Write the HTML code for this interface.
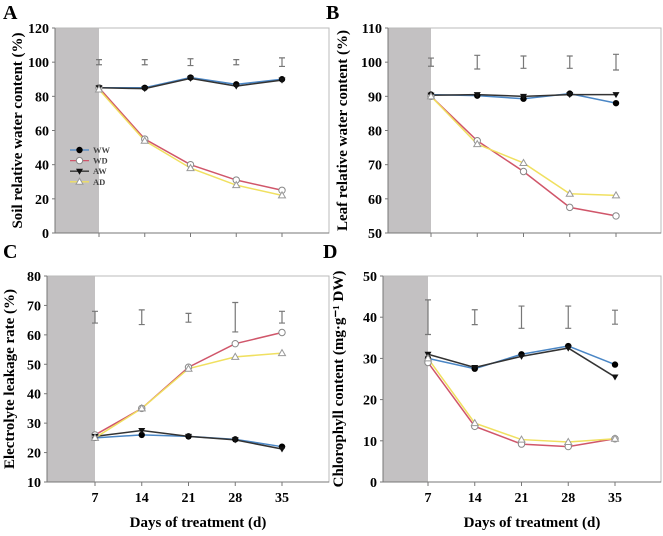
<!DOCTYPE html>
<html><head><meta charset="utf-8"><style>
html,body{margin:0;padding:0;background:#fff;}
svg{display:block;font-family:"Liberation Serif",serif;}
</style></head><body>
<svg id="fig" width="663" height="536" viewBox="0 0 663 536"></svg>
<script>
const days = [7, 14, 21, 28, 35];
const seriesNames = ["WW", "WD", "AW", "AD"];
// Panel A: soil relative water content
const aWW = [85, 85, 91, 87, 90];
const aWD = [85, 55, 40, 31, 25];
const aAW = [85, 84.5, 90.5, 86, 89.5];
const aAD = [84, 54, 38, 28, 22];
const aErrC = [100, 100, 100, 100, 100];
const aErrH = [1.5, 1.5, 2, 1.5, 2.5];
const aTicks = [0, 20, 40, 60, 80, 100, 120];
// Panel B: leaf relative water content
const bWW = [90.5, 90.2, 89.3, 90.8, 88];
const bWD = [90, 77, 68, 57.5, 55];
const bAW = [90.3, 90.5, 90, 90.5, 90.5];
const bAD = [90, 76, 70.5, 61.5, 61];
const bErrC = [100, 100, 100, 100, 100];
const bErrH = [1.2, 2, 1.8, 1.8, 2.3];
const bTicks = [50, 60, 70, 80, 90, 100, 110];
// Panel C: electrolyte leakage
const cWW = [25, 26, 25.5, 24.5, 22];
const cWD = [26, 35, 49, 57, 60.8];
const cAW = [25.5, 27.5, 25.5, 24.3, 21.2];
const cAD = [25, 35, 48.5, 52.5, 53.8];
const cErrC = [66, 66, 65.8, 66, 66];
const cErrH = [2, 2.5, 1.5, 5, 2];
const cTicks = [10, 20, 30, 40, 50, 60, 70, 80];
// Panel D: chlorophyll
const dWW = [30, 27.5, 31, 33, 28.5];
const dWD = [29, 13.5, 9.2, 8.6, 10.5];
const dAW = [31, 27.8, 30.5, 32.5, 25.5];
const dAD = [30, 14.3, 10.3, 9.7, 10.5];
const dErrC = [40, 40, 40, 40, 40];
const dErrH = [4.2, 1.8, 2.7, 2.7, 1.7];
const dTicks = [0, 10, 20, 30, 40, 50];

const NS = "http://www.w3.org/2000/svg";
const svg = document.getElementById("fig");
function mk(tag, attrs, parent) {
  const e = document.createElementNS(NS, tag);
  for (const k in attrs) e.setAttribute(k, attrs[k]);
  (parent || svg).appendChild(e);
  return e;
}
const colors = {WW: "#4a86c5", WD: "#d0566a", AW: "#333333", AD: "#f0e060"};

function marker(g, name, x, y) {
  let m;
  if (name === "WW") m = mk("circle", {cx: x, cy: y, r: 3.2, fill: "#000"}, g);
  else if (name === "WD") m = mk("circle", {cx: x, cy: y, r: 3.2, fill: "#fff", stroke: "#888", "stroke-width": 1}, g);
  else if (name === "AW") m = mk("polygon", {points: `${x-3.5},${y-2.5} ${x+3.5},${y-2.5} ${x},${y+3.5}`, fill: "#111"}, g);
  else m = mk("polygon", {points: `${x-3.5},${y+2.5} ${x+3.5},${y+2.5} ${x},${y-3.5}`, fill: "#fff", stroke: "#999", "stroke-width": 1}, g);
  return m;
}

function panel(cfg) {
  const g = mk("g", {});
  
  
  const X = d => cfg.x7 + (d - 7) * (cfg.x35 - cfg.x7) / 28;
  const Y = v => cfg.bottom - (v - cfg.ymin) * (cfg.bottom - cfg.top) / (cfg.ymax - cfg.ymin);
  // shade
  const sh = mk("rect", {x: cfg.left, y: cfg.top, width: X(7) - cfg.left, height: cfg.bottom - cfg.top, fill: "#c3c1c2"}, g);
  
  
  // frame
  const fr = mk("rect", {x: cfg.left, y: cfg.top, width: cfg.right - cfg.left, height: cfg.bottom - cfg.top, fill: "none", stroke: "#bbb", "stroke-width": 1}, g);
  
  
  mk("line", {x1: cfg.left, y1: cfg.top, x2: cfg.left, y2: cfg.bottom, stroke: "#777"}, g);
  mk("line", {x1: cfg.left, y1: cfg.bottom, x2: cfg.right, y2: cfg.bottom, stroke: "#777"}, g);
  // y ticks
  cfg.ticks.forEach(t => {
    mk("line", {x1: cfg.left - 3, y1: Y(t), x2: cfg.left, y2: Y(t), stroke: "#777"}, g);
    const tx = mk("text", {x: cfg.left - 6, y: Y(t) + 5, "text-anchor": "end", "font-size": 14, "font-weight": "bold"}, g);
    tx.textContent = t;
    
    
  });
  days.forEach(d => {
    mk("line", {x1: X(d), y1: cfg.bottom, x2: X(d), y2: cfg.bottom + 4, stroke: "#777"}, g);
    if (cfg.xlabels) {
      const tx = mk("text", {x: X(d), y: cfg.bottom + 20, "text-anchor": "middle", "font-size": 14, "font-weight": "bold"}, g);
      tx.textContent = d;
      
      
    }
  });
  // error bars
  days.forEach((d, i) => {
    const x = X(d), y1 = Y(cfg.errC[i] + cfg.errH[i]), y2 = Y(cfg.errC[i] - cfg.errH[i]);
    const eb = mk("path", {d: `M${x-3},${y1}H${x+3}M${x},${y1}V${y2}M${x-3},${y2}H${x+3}`, stroke: "#777", "stroke-width": 1.2, fill: "none"}, g);
    
    
  });
  // series
  seriesNames.forEach((nm, si) => {
    const vals = cfg.series[si];
    const pl = mk("polyline", {points: vals.map((v, i) => X(days[i]) + "," + Y(v)).join(" "), fill: "none", stroke: colors[nm], "stroke-width": 1.5}, g);
    
    
  });
  seriesNames.forEach((nm, si) => {
    cfg.series[si].forEach((v, i) => {
      const m = marker(g, nm, X(days[i]), Y(v));
      
      
    });
  });
  // letter
  const lt = mk("text", {x: cfg.lx, y: cfg.ly, "font-size": 20, "font-weight": "bold"}, g);
  lt.textContent = cfg.letter;
  
  
  // y title
  const cy = (cfg.top + cfg.bottom) / 2;
  const yt = mk("text", {x: cfg.ytx, y: cy, "text-anchor": "middle", "font-size": 15, "font-weight": "bold", transform: `rotate(-90 ${cfg.ytx} ${cy})`}, g);
  yt.textContent = cfg.ytitle;
  
  
  if (cfg.xlabels) {
    const xt = mk("text", {x: (cfg.left + cfg.right) / 2 + 10, y: 527, "text-anchor": "middle", "font-size": 15, "font-weight": "bold"}, g);
    xt.textContent = "Days of treatment (d)";
    
    
  }
  return {g, X, Y};
}

panel({name: "panel-a", letter: "A", lx: 3, ly: 19, left: 55, right: 329, top: 28, bottom: 233, x7: 99, x35: 282,
  ymin: 0, ymax: 120, ticks: aTicks, errC: aErrC, errH: aErrH, series: [aWW, aWD, aAW, aAD],
  ytx: 22, ytitle: "Soil relative water content (%)", xlabels: false});
panel({name: "panel-b", letter: "B", lx: 326, ly: 19, left: 388, right: 661, top: 28, bottom: 233, x7: 431, x35: 616,
  ymin: 50, ymax: 110, ticks: bTicks, errC: bErrC, errH: bErrH, series: [bWW, bWD, bAW, bAD],
  ytx: 347, ytitle: "Leaf relative water content (%)", xlabels: false});
panel({name: "panel-c", letter: "C", lx: 3, ly: 258, left: 47, right: 329, top: 276, bottom: 482, x7: 95, x35: 282,
  ymin: 10, ymax: 80, ticks: cTicks, errC: cErrC, errH: cErrH, series: [cWW, cWD, cAW, cAD],
  ytx: 14, ytitle: "Electrolyte leakage rate (%)", xlabels: true});
panel({name: "panel-d", letter: "D", lx: 323, ly: 258, left: 383, right: 661, top: 276, bottom: 482, x7: 428, x35: 615,
  ymin: 0, ymax: 50, ticks: dTicks, errC: dErrC, errH: dErrH, series: [dWW, dWD, dAW, dAD],
  ytx: 343, ytitle: "Chlorophyll content (mg\u00B7g\u207B\u00B9 DW)", xlabels: true});

// legend in panel A
const lg = mk("g", {});


seriesNames.forEach((nm, i) => {
  const y = 150 + i * 10.6;
  mk("line", {x1: 70, y1: y, x2: 89, y2: y, stroke: colors[nm], "stroke-width": 1.3}, lg);
  const m = marker(lg, nm, 79.5, y);
  
  
  const t = mk("text", {x: 93, y: y + 3, "font-size": 8.5, "font-weight": "bold", fill: "#444"}, lg);
  t.textContent = nm;
  
  
});
</script>
</body></html>
